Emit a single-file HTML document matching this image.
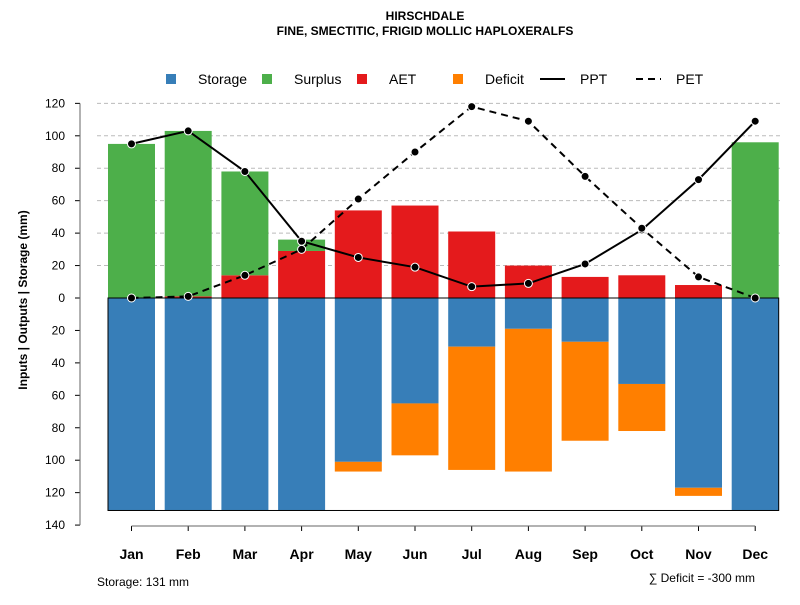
<!DOCTYPE html>
<html><head><meta charset="utf-8"><style>body{margin:0;background:#fff}svg{font-family:"Liberation Sans",sans-serif}</style></head>
<body>
<svg id="c" width="800" height="600" xmlns="http://www.w3.org/2000/svg">
<text x="425" y="20" text-anchor="middle" font-size="12" font-weight="bold">HIRSCHDALE</text>
<text x="425" y="35" text-anchor="middle" font-size="12" font-weight="bold">FINE, SMECTITIC, FRIGID MOLLIC HAPLOXERALFS</text>
<g id="legend">
<rect x="166" y="74" width="10" height="10" fill="#377eb8"/><text x="198" y="84" font-size="14">Storage</text>
<rect x="262" y="74" width="10" height="10" fill="#4daf4a"/><text x="294" y="84" font-size="14">Surplus</text>
<rect x="357" y="74" width="10" height="10" fill="#e41a1c"/><text x="389" y="84" font-size="14">AET</text>
<rect x="453" y="74" width="10" height="10" fill="#ff7f00"/><text x="485" y="84" font-size="14">Deficit</text>
<line x1="540" y1="79" x2="565" y2="79" stroke="#000" stroke-width="2"/><text x="580" y="84" font-size="14">PPT</text>
<line x1="636" y1="79" x2="661" y2="79" stroke="#000" stroke-width="2" stroke-dasharray="7,5"/><text x="676" y="84" font-size="14">PET</text>
</g>
<text transform="translate(27,300) rotate(-90)" text-anchor="middle" font-size="12" font-weight="bold">Inputs | Outputs | Storage    (mm)</text>
<text x="97" y="586" font-size="12">Storage: 131 mm</text>
<text x="755" y="582" text-anchor="end" font-size="12">∑ Deficit = -300 mm</text>
<g id="grid"></g><g id="bars"></g><g id="lines"></g><g id="axes"></g>
</svg>
<script>
const months=["Jan","Feb","Mar","Apr","May","Jun","Jul","Aug","Sep","Oct","Nov","Dec"];
const storage=[131,131,131,131,101,65,30,19,27,53,117,131];
const deficit=[0,0,0,0,6,32,76,88,61,29,5,0];
const aet=[0,1,14,29,54,57,41,20,13,14,8,0];
const surplus=[95,102,64,7,0,0,0,0,0,0,0,96];
const ppt=[95,103,78,35,25,19,7,9,21,42,73,109];
const pet=[0,1,14,30,61,90,118,109,75,43,13,0];
const yTicks=[120,100,80,60,40,20,0,20,40,60,80,100,120,140];
const NS="http://www.w3.org/2000/svg";
const y=v=>298-v*1.622;
const x=i=>131.5+i*56.7;
const bw=47;
function mk(t,a,p){const e=document.createElementNS(NS,t);for(const k in a)e.setAttribute(k,a[k]);document.getElementById(p).appendChild(e);return e;}
yTicks.forEach((t,i)=>{const v=i<6?t:(i==6?0:-t);const yy=y(v);
 if(i<6){const g=mk("line",{x1:97,x2:780,y1:yy,y2:yy,stroke:"#bbb","stroke-dasharray":"4,3"},"grid");
 
 }
 const tk=mk("line",{x1:75,x2:80,y1:yy,y2:yy,stroke:"#000"},"axes");
 
 
 const tx=mk("text",{x:65,y:yy+4,"text-anchor":"end","font-size":12},"axes");tx.textContent=t;
 
 });
const ax=mk("line",{x1:80,x2:80,y1:y(120),y2:y(-140),stroke:"#666"},"axes");


months.forEach((m,i)=>{const cx=x(i),l=cx-bw/2;
 const st=mk("rect",{x:l,y:y(0),width:bw,height:y(-storage[i])-y(0),fill:"#377eb8"},"bars");
 
 
 if(deficit[i]>0){const d=mk("rect",{x:l,y:y(-storage[i]),width:bw,height:y(-storage[i]-deficit[i])-y(-storage[i]),fill:"#ff7f00"},"bars");
 
 }
 if(aet[i]>0){const a=mk("rect",{x:l,y:y(aet[i]),width:bw,height:y(0)-y(aet[i]),fill:"#e41a1c"},"bars");
 
 }
 if(surplus[i]>0){const s=mk("rect",{x:l,y:y(aet[i]+surplus[i]),width:bw,height:y(aet[i])-y(aet[i]+surplus[i]),fill:"#4daf4a"},"bars");
 
 }
 const tk=mk("line",{x1:cx,x2:cx,y1:526,y2:531,stroke:"#000"},"axes");
 
 
 const tx=mk("text",{x:cx,y:559,"text-anchor":"middle","font-size":14,"font-weight":"bold"},"axes");tx.textContent=m;
 
 });
const xa=mk("line",{x1:x(0),x2:x(11),y1:526,y2:526,stroke:"#666"},"axes");


const box=mk("rect",{x:x(0)-bw/2,y:y(0),width:x(11)-x(0)+bw,height:y(-131)-y(0),fill:"none",stroke:"#000","stroke-width":1},"bars");


[[ppt,"",'ppt'],[pet,"7,5",'pet']].forEach(([arr,da,n])=>{
 const p=mk("polyline",{points:arr.map((v,i)=>x(i)+","+y(v)).join(" "),fill:"none",stroke:"#000","stroke-width":2,"stroke-dasharray":da},"lines");
 
 
 arr.forEach((v,i)=>{const c=mk("circle",{cx:x(i),cy:y(v),r:4,fill:"#000",stroke:"#fff","stroke-width":1},"lines");
 
 });});
</script>
</body></html>
